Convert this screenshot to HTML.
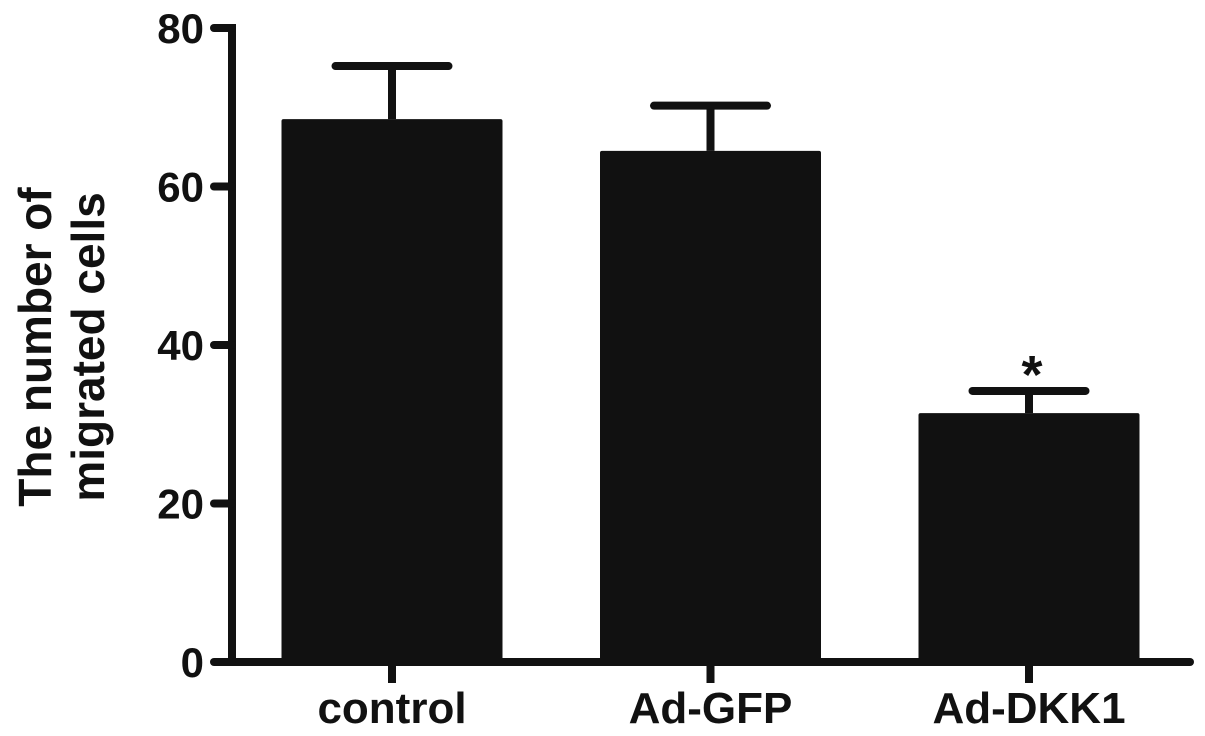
<!DOCTYPE html>
<html><head><meta charset="utf-8"><style>
html,body{margin:0;padding:0;background:#fff;}
svg{display:block;font-family:"Liberation Sans",Arial,sans-serif;font-weight:bold;}
</style></head><body>
<svg id="chart" width="1205" height="736" viewBox="0 0 1205 736"></svg>
<script>
const categories = ["control","Ad-GFP","Ad-DKK1"];
const means = [68.5, 64.5, 31.4];
const errors = [6.7, 5.7, 2.8];
const significance = ["", "", "*"];
const yTicks = [0,20,40,60,80];
const yTitleLines = ["The number of","migrated cells"];

const NS="http://www.w3.org/2000/svg";
const svg=document.getElementById('chart');
const X0=232, Y0=662, YTOP=28, XEND=1190;
const yScale=v=>Y0-(v/80)*(Y0-YTOP);
const xCenter=i=>392+i*318.5;
const barW=221, capW=113;
function el(tag,attrs){const e=document.createElementNS(NS,tag);for(const k in attrs)e.setAttribute(k,attrs[k]);svg.appendChild(e);return e;}

categories.forEach((c,i)=>{
  const cx=xCenter(i), top=yScale(means[i]), capY=yScale(means[i]+errors[i]);
  const eb=el('line',{x1:cx,y1:top,x2:cx,y2:capY,stroke:'#111','stroke-width':8});
  
  
  const cap=el('line',{x1:cx-capW/2,y1:capY,x2:cx+capW/2,y2:capY,stroke:'#111','stroke-width':8,'stroke-linecap':'round'});
  
  
  const b=el('rect',{x:cx-barW/2,y:top,width:barW,height:Y0-top,fill:'#111',rx:2});
  
  
  const tk=el('line',{x1:cx,y1:Y0,x2:cx,y2:683,stroke:'#111','stroke-width':8});
  
  
  const t=el('text',{x:cx,y:723,'text-anchor':'middle','font-size':44,fill:'#111'});
  t.textContent=c;
  
  
  if(significance[i]){
    const s=el('text',{x:cx+3,y:capY+2,'text-anchor':'middle','font-size':54,fill:'#111'});
    s.textContent=significance[i];
    
    
  }
});

const ya=el('line',{x1:X0,y1:YTOP-4,x2:X0,y2:Y0+4,stroke:'#111','stroke-width':8});


const xa=el('line',{x1:X0,y1:Y0,x2:XEND,y2:Y0,stroke:'#111','stroke-width':8,'stroke-linecap':'round'});


yTicks.forEach(v=>{
  const y=yScale(v);
  const l=el('line',{x1:214,y1:y,x2:X0,y2:y,stroke:'#111','stroke-width':8,'stroke-linecap':'round'});
  
  
  const t=el('text',{x:204,y:y+15,'text-anchor':'end','font-size':42,fill:'#111'});
  t.textContent=v;
  
  
});
yTitleLines.forEach((s,i)=>{
  const t=el('text',{x:0,y:0,'text-anchor':'middle','font-size':46,fill:'#111',transform:`translate(${51+i*53},347) rotate(-90)`});
  t.textContent=s;
  
  
});
</script>
</body></html>
